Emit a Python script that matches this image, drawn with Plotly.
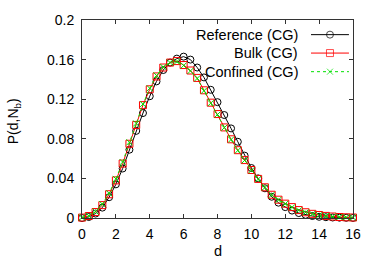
import plotly.graph_objects as go

d = [0.0, 0.4, 0.8, 1.2, 1.6, 2.0, 2.4, 2.8, 3.2, 3.6, 4.0, 4.4, 4.8, 5.2, 5.6, 6.0,
     6.4, 6.8, 7.2, 7.6, 8.0, 8.4, 8.8, 9.2, 9.6, 10.0, 10.4, 10.8, 11.2, 11.6, 12.0,
     12.4, 12.8, 13.2, 13.6, 14.0, 14.4, 14.8, 15.2, 15.6, 16.0]

reference_cg = [0.0000, 0.0010, 0.0045, 0.0105, 0.0210, 0.0340, 0.0500, 0.0690, 0.0880, 0.1060,
                0.1230, 0.1380, 0.1495, 0.1570, 0.1610, 0.1630, 0.1600, 0.1520, 0.1420, 0.1295,
                0.1170, 0.1040, 0.0905, 0.0770, 0.0630, 0.0505, 0.0400, 0.0300, 0.0215, 0.0155,
                0.0110, 0.0075, 0.0050, 0.0032, 0.0020, 0.0012, 0.0008, 0.0005, 0.0003, 0.0002,
                0.0001]

bulk_cg = [0.0004, 0.0020, 0.0060, 0.0130, 0.0240, 0.0380, 0.0550, 0.0750, 0.0940, 0.1140,
           0.1300, 0.1430, 0.1520, 0.1570, 0.1585, 0.1545, 0.1490, 0.1415, 0.1290, 0.1165,
           0.1050, 0.0915, 0.0795, 0.0685, 0.0585, 0.0485, 0.0395, 0.0310, 0.0235, 0.0185,
           0.0145, 0.0110, 0.0080, 0.0058, 0.0042, 0.0030, 0.0021, 0.0015, 0.0010, 0.0007,
           0.0005]

confined_cg = [0.0005, 0.0022, 0.0065, 0.0140, 0.0250, 0.0395, 0.0565, 0.0765, 0.0955, 0.1150,
               0.1310, 0.1440, 0.1525, 0.1570, 0.1580, 0.1540, 0.1485, 0.1410, 0.1285, 0.1160,
               0.1045, 0.0912, 0.0792, 0.0682, 0.0582, 0.0482, 0.0392, 0.0308, 0.0233, 0.0183,
               0.0143, 0.0108, 0.0078, 0.0057, 0.0041, 0.0029, 0.0020, 0.0014, 0.0010, 0.0007,
               0.0005]

x_ticks = [0, 2, 4, 6, 8, 10, 12, 14, 16]
y_ticks = [0, 0.04, 0.08, 0.12, 0.16, 0.2]
y_tick_labels = ["0", "0.04", "0.08", "0.12", "0.16", "0.2"]

series_names = ["Reference (CG)", "Bulk (CG)", "Confined (CG)"]
series_values = [reference_cg, bulk_cg, confined_cg]
styles = [
    dict(color="#000000", dash="solid", symbol="circle-open", size=7),
    dict(color="#ff0000", dash="solid", symbol="square-open", size=7),
    dict(color="#00e000", dash="dot", symbol="x-thin-open", size=6),
]

FONT = "Liberation Sans, Arial, sans-serif"

fig = go.Figure()
for name, vals, st in zip(series_names, series_values, styles):
    fig.add_trace(go.Scatter(
        x=d, y=vals, mode="lines+markers", name=name, showlegend=False,
        line=dict(color=st["color"], width=1, dash=st["dash"]),
        marker=dict(symbol=st["symbol"], size=st["size"], color=st["color"],
                    line=dict(color=st["color"], width=1)),
        cliponaxis=False,
    ))

# gnuplot-style key: text right-aligned, line sample on its right
key_y = [0.926, 0.833, 0.739]
for name, st, ky in zip(series_names, styles, key_y):
    fig.add_annotation(x=0.804, y=ky, xref="paper", yref="paper", text=name,
                       showarrow=False, xanchor="right", yanchor="middle",
                       font=dict(family=FONT, size=14.5, color="#000000"))
    fig.add_trace(go.Scatter(
        x=[0.845, 0.915, 0.985], y=[ky, ky, ky], xaxis="x2", yaxis="y2",
        mode="lines+markers", showlegend=False, hoverinfo="skip",
        line=dict(color=st["color"], width=1, dash=st["dash"]),
        marker=dict(symbol=st["symbol"], size=[0, st["size"], 0], color=st["color"],
                    line=dict(color=st["color"], width=1)),
        cliponaxis=False,
    ))

axis_common = dict(showgrid=False, zeroline=False, showline=True, linecolor="#333333",
                   linewidth=1, mirror="allticks", ticks="inside", ticklen=4,
                   tickcolor="#333333", tickfont=dict(family=FONT, size=14, color="#000000"))

fig.update_layout(
    width=380, height=266,
    margin=dict(l=82, r=27, t=15, b=48),
    paper_bgcolor="#ffffff", plot_bgcolor="#ffffff",
    font=dict(family=FONT, size=14, color="#000000"),
    xaxis=dict(range=[0, 16], tickvals=x_ticks, ticktext=[str(t) for t in x_ticks],
               ticklabelstandoff=3, **axis_common),
    yaxis=dict(range=[0, 0.2], tickvals=y_ticks, ticktext=y_tick_labels,
               ticklabelstandoff=4, **axis_common),
    xaxis2=dict(range=[0, 1], overlaying="x", visible=False, fixedrange=True),
    yaxis2=dict(range=[0, 1], overlaying="y", visible=False, fixedrange=True),
    showlegend=False,
)

fig.add_annotation(x=0.5, y=-0.167, xref="paper", yref="paper", text="d", showarrow=False,
                   xanchor="center", yanchor="middle", font=dict(family=FONT, size=14.5))
fig.add_annotation(x=-0.25, y=0.49, xref="paper", yref="paper", text="P(d,N<sub>b</sub>)",
                   showarrow=False, textangle=-90, xanchor="center", yanchor="middle",
                   font=dict(family=FONT, size=14))

fig.write_html("out.html", config={"displayModeBar": False},
               post_script="document.body.style.margin='0';document.body.style.padding='0';")
